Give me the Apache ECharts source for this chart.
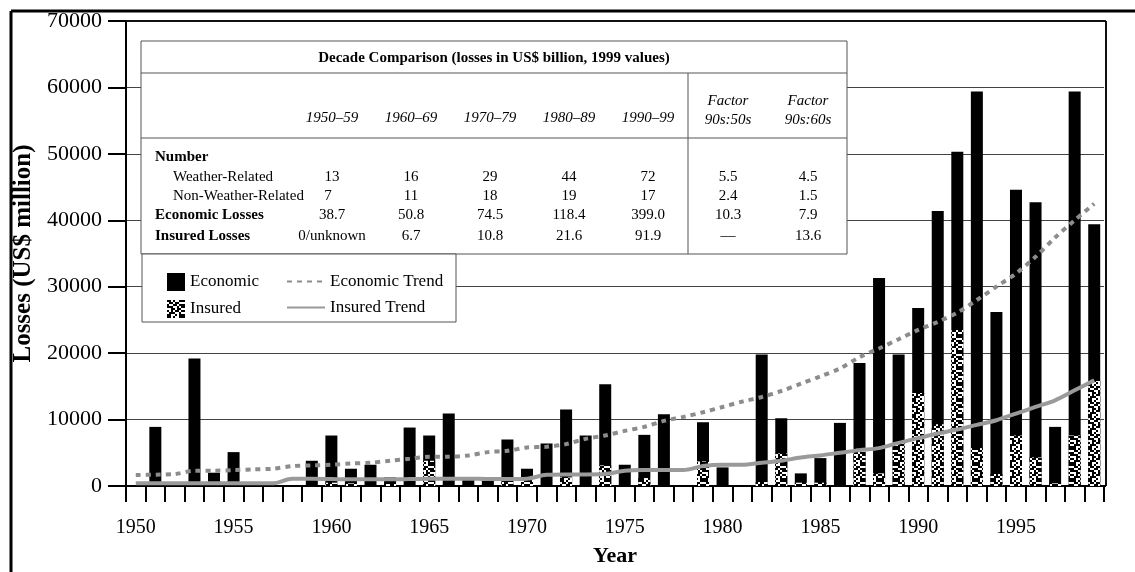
<!DOCTYPE html>
<html><head><meta charset="utf-8">
<script src="https://cdn.jsdelivr.net/npm/echarts@6/dist/echarts.min.js"></script>
<style>html,body{margin:0;padding:0;background:#fff}#c{width:1135px;height:572px}</style>
</head><body><div id="c"></div>
<script>
// ---------- DATA ----------
const years = ['1950','1951','1952','1953','1954','1955','1956','1957','1958','1959',
  '1960','1961','1962','1963','1964','1965','1966','1967','1968','1969',
  '1970','1971','1972','1973','1974','1975','1976','1977','1978','1979',
  '1980','1981','1982','1983','1984','1985','1986','1987','1988','1989',
  '1990','1991','1992','1993','1994','1995','1996','1997','1998','1999'];
const economic = [0,8900,0,19200,2000,5100,0,0,0,3800,
  7600,2600,3200,1300,8800,7600,10900,1300,800,7000,
  2600,6400,11500,7600,15300,3200,7700,10800,0,9600,
  2800,0,19800,10200,1900,4200,9500,18500,31300,19800,
  26800,41400,50300,59400,26200,44600,42700,8900,59400,39400];
const insured = [0,0,0,0,0,0,0,0,0,0,
  500,400,0,300,0,3800,0,0,0,600,
  1200,0,1300,0,3100,0,1200,0,0,3700,
  0,0,600,4900,500,500,0,5600,1900,6500,
  14000,9300,23500,5700,1800,7600,4300,400,7600,15800];
const economicTrend = [1650,1700,1800,2300,2300,2400,2500,2600,3000,3100,
  3200,3400,3500,3800,4100,4400,4400,4600,5100,5300,
  5800,5900,6300,7100,7600,8300,8900,9800,10400,11100,
  11900,12700,13400,14300,15400,16500,17700,19400,20700,22100,
  23500,24700,26100,28000,30000,32000,34500,37400,40000,42500];
const insuredTrend = [400,400,400,400,400,400,400,400,1100,1100,
  1050,1000,1000,1000,1050,1100,1100,1100,1050,1050,
  1100,1700,1750,1750,1800,2300,2400,2400,2400,3000,
  3200,3200,3500,3800,4300,4600,5000,5400,5700,6500,
  7200,7900,8500,9200,9900,10900,11900,12900,14400,15900];

// Decade comparison table
const tableTitle = 'Decade Comparison (losses in US$ billion, 1999 values)';
const decades = ['1950–59','1960–69','1970–79','1980–89','1990–99'];
const factorHeads = [['Factor','90s:50s'],['Factor','90s:60s']];
const rowLabels = ['Number','Weather-Related','Non-Weather-Related','Economic Losses','Insured Losses'];
const weatherRelated = ['13','16','29','44','72'];
const nonWeatherRelated = ['7','11','18','19','17'];
const economicLosses = ['38.7','50.8','74.5','118.4','399.0'];
const insuredLosses = ['0/unknown','6.7','10.8','21.6','91.9'];
const factor5050 = ['5.5','2.4','10.3','—'];
const factor6060 = ['4.5','1.5','7.9','13.6'];

// ---------- STYLE ----------
const SERIF = '"Liberation Serif","DejaVu Serif",serif';
function makePattern(){
  const bits = [
    '11010011','01101100','10011011','11100101',
    '00110110','10101101','01110010','11001011'
  ];
  const s = 2, n = 8;
  const c = document.createElement('canvas');
  c.width = n*s; c.height = n*s;
  const g = c.getContext('2d');
  g.fillStyle = '#fff'; g.fillRect(0,0,c.width,c.height);
  g.fillStyle = '#000';
  for (let r=0;r<n;r++) for (let k=0;k<n;k++) if (bits[r][k]==='1') g.fillRect(k*s,r*s,s,s);
  return c;
}
const pattern = {image: makePattern(), repeat: 'repeat'};

// ---------- TABLE GRAPHICS ----------
const T = {l:141, r:847, t:41, b:254, titleLine:73, headLine:138, div:688};
const colX = [332,411,490,569,648];
const facX = [728,808];
const rowY = [157,177,196,215,236];
const g = [];
function txt(text,x,y,opts){
  opts = opts||{};
  g.push({type:'text', z:3, style:{text:text, x:x, y:y, fill:'#000',
    font:(opts.italic?'italic ':'')+(opts.bold?'bold ':'')+(opts.size||15)+'px '+SERIF,
    textAlign:opts.align||'center', textVerticalAlign:'middle', align:opts.align||'center', verticalAlign:'middle'}});
}
function line(x1,y1,x2,y2,w,c,z){
  g.push({type:'line', z:z||2, shape:{x1:x1,y1:y1,x2:x2,y2:y2}, style:{stroke:c||'#000', lineWidth:w||1}});
}
// outer frame
line(11,11,1135,11,3,'#000',5);
line(11,11,11,572,3,'#000',5);
// plot frame
line(126,21,1106,21,2,'#111',5);
line(1106,21,1106,486,2,'#111',5);
line(1100,486,1106,486,2,'#000',5);
// table box
g.push({type:'rect', z:1, shape:{x:T.l,y:T.t,width:T.r-T.l,height:T.b-T.t}, style:{fill:'#fff', stroke:'#555', lineWidth:1}});
line(T.l,T.titleLine,T.r,T.titleLine,1,'#555');
line(T.l,T.headLine,T.r,T.headLine,1,'#555');
line(T.div,T.titleLine,T.div,T.b,1,'#555');
txt(tableTitle,(T.l+T.r)/2,58,{bold:true});
decades.forEach((d,i)=>txt(d,colX[i],118,{italic:true}));
factorHeads.forEach((f,i)=>{txt(f[0],facX[i],101,{italic:true}); txt(f[1],facX[i],120,{italic:true});});
txt(rowLabels[0],155,rowY[0],{bold:true,align:'left'});
txt(rowLabels[1],173,rowY[1],{align:'left'});
txt(rowLabels[2],173,rowY[2],{align:'left'});
txt(rowLabels[3],155,rowY[3],{bold:true,align:'left'});
txt(rowLabels[4],155,rowY[4],{bold:true,align:'left'});
[weatherRelated,nonWeatherRelated,economicLosses,insuredLosses].forEach((row,ri)=>{
  row.forEach((v,i)=>txt(v,colX[i]+(ri===1&&i===0?-4:0),rowY[ri+1]));
  txt(factor5050[ri],facX[0],rowY[ri+1]);
  txt(factor6060[ri],facX[1],rowY[ri+1]);
});
// legend box
g.push({type:'rect', z:1, shape:{x:142,y:254,width:314,height:68}, style:{fill:'#fff', stroke:'#555', lineWidth:1}});

// ---------- CHART ----------
const chart = echarts.init(document.getElementById('c'), null, {renderer:'canvas'});
const legendText = {fontFamily:SERIF, fontSize:17, color:'#000'};
chart.setOption({
  animation:false,
  backgroundColor:'#fff',
  textStyle:{fontFamily:SERIF},
  grid:{left:126, right:31, top:21, bottom:86, containLabel:false, outerBoundsMode:'none'},
  legend:[
    {data:['Economic','Insured'], icon:'rect', orient:'vertical', left:162, top:268, itemWidth:18, itemHeight:18, itemGap:9, textStyle:legendText, selectedMode:false},
    {data:['Economic Trend','Insured Trend'], orient:'vertical', left:281, top:268, itemWidth:38, itemHeight:18, itemGap:9, textStyle:legendText, selectedMode:false,
      itemStyle:{opacity:0}}
  ],
  xAxis:{type:'category', data:years, boundaryGap:true,
    axisLine:{lineStyle:{color:'#000', width:2}},
    axisTick:{show:true, interval:0, length:16, lineStyle:{color:'#000', width:2}},
    axisLabel:{interval:4, margin:32, fontFamily:SERIF, fontSize:20, color:'#000'},
    name:'Year', nameLocation:'middle', nameGap:59,
    nameTextStyle:{fontFamily:SERIF, fontSize:22, fontWeight:'bold', color:'#000'}},
  yAxis:{type:'value', min:0, max:70000, interval:10000,
    axisLine:{show:true, lineStyle:{color:'#000', width:2}},
    axisTick:{show:true, length:18, lineStyle:{color:'#000', width:2}},
    axisLabel:{margin:24, fontFamily:SERIF, fontSize:22, color:'#000', formatter:function(v){return String(v);}},
    splitLine:{show:true, lineStyle:{color:'#444', width:1}},
    name:'Losses (US$ million)', nameLocation:'middle', nameGap:83, nameRotate:90,
    nameTextStyle:{fontFamily:SERIF, fontSize:25, fontWeight:'bold', color:'#000'}},
  series:[
    {name:'Economic', type:'bar', data:economic, barWidth:12, itemStyle:{color:'#000'}},
    {name:'Insured', type:'bar', data:insured, barWidth:12, barGap:'-100%', itemStyle:{color:pattern}},
    {name:'Economic Trend', type:'line', data:economicTrend, symbol:'none', smooth:0.3,
      lineStyle:{color:'#8c8c8c', width:4, type:[5,5], cap:'butt'}, itemStyle:{color:'#8c8c8c'}},
    {name:'Insured Trend', type:'line', data:insuredTrend, symbol:'none', smooth:0.3,
      lineStyle:{color:'#9a9a9a', width:4}, itemStyle:{color:'#9a9a9a'}}
  ],
  graphic:g
});
</script></body></html>
